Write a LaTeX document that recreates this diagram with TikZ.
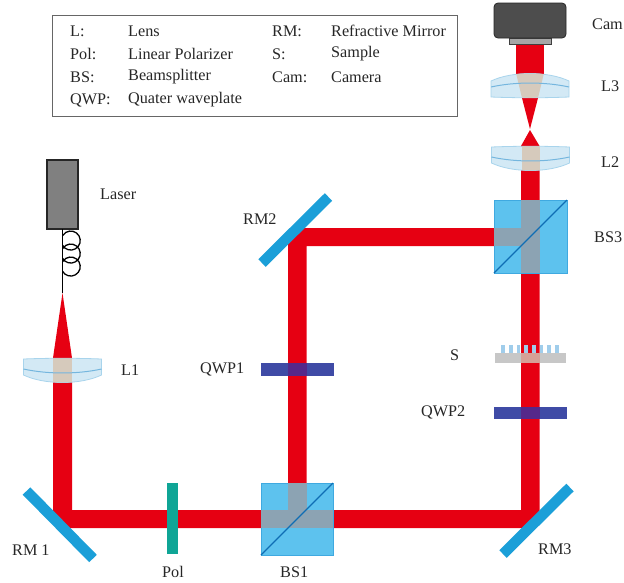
\documentclass[tikz,border=0pt]{standalone}
\usepackage{fontspec}
\setmainfont{Liberation Serif}
\definecolor{beam}{HTML}{E60012}
\definecolor{cube}{HTML}{5DC2EE}
\definecolor{cubeedge}{HTML}{3FA9E0}
\definecolor{cubebeam}{HTML}{8CA3B3}
\definecolor{diag}{HTML}{0F6DB4}
\definecolor{mirror}{HTML}{1B9FD8}
\definecolor{wave}{HTML}{3F4BA6}
\definecolor{wavebeam}{HTML}{55288A}
\definecolor{lensfill}{HTML}{D3E9F5}
\definecolor{lensedge}{HTML}{A8D4EC}
\definecolor{lensmid}{HTML}{74B6DE}
\definecolor{lensbeam}{HTML}{D6CABC}
\definecolor{polcolor}{HTML}{0FA596}
\definecolor{subbeam}{HTML}{D6A096}
\definecolor{pillar}{HTML}{A0CDEB}
\definecolor{cambody}{HTML}{4D4D4D}
\tikzset{
  lbl/.style={font=\fontsize{16.2}{18}\selectfont,text=black!85,inner sep=0pt,anchor=west},
  beamfill/.style={fill=beam,draw=none},
  mirrorline/.style={draw=mirror,line width=10.6pt},
  cubebox/.style={fill=cube,draw=cubeedge,line width=0.8pt},
  cubegray/.style={fill=cubebeam,draw=none},
  diagline/.style={draw=diag,line width=1.3pt},
  waveplate/.style={fill=wave,draw=none},
  waveover/.style={fill=wavebeam,draw=none},
  pics/lens/.style={code={
    \path[fill=lensfill,draw=lensedge,line width=0.8pt]
      (-39,-11) .. controls (-15,-12) and (15,-12) .. (39,-11) -- (39,5)
      .. controls (18,15) and (-18,15) .. (-39,5) -- cycle;
    \begin{scope}
      \clip (-39,-11) .. controls (-15,-12) and (15,-12) .. (39,-11) -- (39,5)
      .. controls (18,15) and (-18,15) .. (-39,5) -- cycle;
      \fill[lensbeam] (#1,-14) rectangle (-#1,14);
    \end{scope}
    \draw[lensmid,line width=1pt] (-39,-1) .. controls (-15,4.3) and (15,4.3) .. (39,-1);
  }}
}
\begin{document}
\begin{tikzpicture}[x=1pt,y=-1pt]
\useasboundingbox (0,0) rectangle (624,582);
% beams
\fill[beamfill] (53,521) -- (53,358) -- (62.5,293) -- (72,358) -- (72,510) -- (521,510) -- (521,146) -- (530,130) -- (539.5,146) -- (539.5,517) -- (529,528) -- (60,528) -- cycle;
\fill[beamfill] (288,510) -- (288,242) -- (302,228) -- (521,228) -- (521,246) -- (306.5,246) -- (306.5,510) -- cycle;
\fill[beamfill] (522,98) -- (530,129) -- (538,98) -- cycle;
\fill[beamfill] (516,44) rectangle (544,74);
% mirrors
\draw[mirrorline] (26.5,491) coordinate (rm1a) -- (93,558.5) coordinate (rm1b);
\draw[mirrorline] (262,263) coordinate (rm2a) -- (328.5,197) coordinate (rm2b);
\draw[mirrorline] (503,554) coordinate (rm3a) -- (570,487.5) coordinate (rm3b);
% polarizer
\fill[polcolor] (167,483) rectangle (178,554);
% lenses
\pic at (62.5,370) {lens=9.5};
\pic at (530.5,158) {lens=9};
\begin{scope}[shift={(530,86)},yscale=-1]
  \path[fill=lensfill,draw=lensedge,line width=0.8pt]
      (-39,-11) .. controls (-15,-12) and (15,-12) .. (39,-11) -- (39,5)
      .. controls (18,15) and (-18,15) .. (-39,5) -- cycle;
  \clip (-39,-11) .. controls (-15,-12) and (15,-12) .. (39,-11) -- (39,5)
      .. controls (18,15) and (-18,15) .. (-39,5) -- cycle;
  \fill[lensbeam] (-8,-12) -- (-14,13) -- (14,13) -- (8,-12) -- cycle;
  \draw[lensmid,line width=1pt] (-39,-1) .. controls (-15,4.3) and (15,4.3) .. (39,-1);
\end{scope}
% cubes
\draw[cubebox] (261,483) rectangle (333,555);
\fill[cubegray] (261,510) rectangle (333,528);
\fill[cubegray] (288,483) rectangle (306.5,510);
\draw[diagline] (261,555) -- (333,483);
\draw[cubebox] (494,200) rectangle (567,273);
\fill[cubegray] (521,200) rectangle (539.5,273);
\fill[cubegray] (494,228) rectangle (521,246);
\draw[diagline] (494,273) -- (567,200);
% waveplates
\fill[waveplate] (261,363) rectangle (334,376);
\fill[waveover] (288,363) rectangle (306.5,376);
\fill[waveplate] (494,407) rectangle (567,419);
\fill[waveover] (521,407) rectangle (539.5,419);
% sample
\fill[black!22] (495,353) rectangle (566,363);
\fill[subbeam] (521,353) rectangle (539.5,363);
\foreach \px in {503,510.7,518.4,526.1,533.8,541.5,549.2,556.9}{
  \fill[pillar] (\px-1.9,345) rectangle (\px+1.9,353);
}
% camera
\fill[black!35,draw=black!75,line width=0.8pt] (509,38) rectangle (551,44);
\fill[cambody,draw=black!85,line width=0.8pt,rounded corners=4pt] (494,3) rectangle (566,38);
% laser and fibre
\fill[black!50,draw=black!85,line width=1.3pt] (47,160) rectangle (78,229);
\draw[black,line width=1.4pt] (62.5,229) -- (62.5,293);
\draw[black,line width=1.3pt] (62.5,245.3) arc[start angle=150,end angle=-150,radius=9.5]
  (62.5,258.3) arc[start angle=150,end angle=-150,radius=9.5]
  (62.5,271.3) arc[start angle=150,end angle=-150,radius=9.5];
% legend
\node[draw=black!60,line width=1.3pt,minimum width=405pt,minimum height=101pt,anchor=north west,inner sep=0pt] (legend) at (52,15) {};
\node[lbl] (a1) at (70,31) {L:};
\node[lbl] (a2) at (128,31) {Lens};
\node[lbl] (b1) at (70,54) {Pol:};
\node[lbl] (b2) at (128,54) {Linear Polarizer};
\node[lbl] (c1) at (70,77) {BS:};
\node[lbl] (c2) at (128,77) {Beamsplitter};
\node[lbl] (d1) at (70,100) {QWP:};
\node[lbl] (d2) at (128,100) {Quater waveplate};
\node[lbl] (e1) at (272,31) {RM:};
\node[lbl] (e2) at (331,31) {Refractive Mirror};
\node[lbl] (f1) at (272,54) {S:};
\node[lbl] (f2) at (331,54) {Sample};
\node[lbl] (g1) at (272,77) {Cam:};
\node[lbl] (g2) at (331,77) {Camera};
% labels
\node[lbl] (lcam) at (592,24) {Cam};
\node[lbl] (ll3) at (601,86) {L3};
\node[lbl] (ll2) at (601,162) {L2};
\node[lbl] (lbs3) at (594,237) {BS3};
\node[lbl] (llaser) at (100,194) {Laser};
\node[lbl] (ll1) at (121,370) {L1};
\node[lbl] (lrm2) at (243,219) {RM2};
\node[lbl] (lq1) at (200,369) {QWP1};
\node[lbl] (ls) at (450,355) {S};
\node[lbl] (lq2) at (421,412) {QWP2};
\node[lbl] (lrm1) at (12,550) {RM 1};
\node[lbl] (lpol) at (162,572) {Pol};
\node[lbl] (lbs1) at (280,572) {BS1};
\node[lbl] (lrm3) at (538,549) {RM3};
\end{tikzpicture}
\end{document}
